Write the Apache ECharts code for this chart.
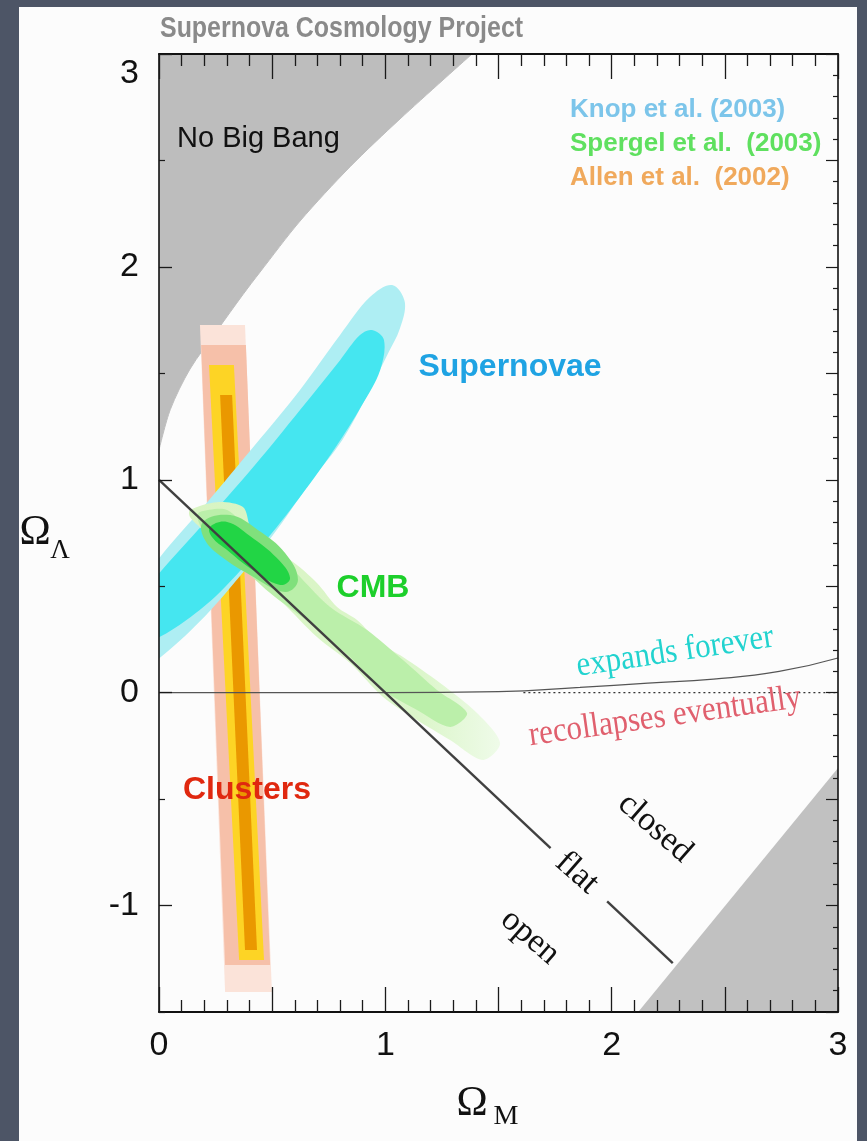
<!DOCTYPE html>
<html><head><meta charset="utf-8">
<script src="https://cdn.jsdelivr.net/npm/echarts@6/dist/echarts.min.js"></script>
<style>html,body{margin:0;padding:0;background:#4d5566;}#c{width:867px;height:1141px;}</style>
</head><body><div id="c"></div>
<script>
// ---- tick labels ----
const xLabelValues = [0, 1, 2, 3];
const yLabelValues = [-1, 0, 1, 2, 3];
const yHalfTicks = [-1.5, -0.5, 0.5, 1.5, 2.5];

// ---- regions (Omega_M, Omega_Lambda) ----
const noBigBangEdge = [[0,1.14],[0.05,1.33],[0.137,1.52],[0.256,1.70],[0.371,1.87],[0.446,1.975],[0.623,2.215],[0.844,2.47],[1.065,2.695],[1.383,3.0]];
const lowerRightGray = [[2.117,-1.5],[3,-0.354],[3,-1.5]];

const clusterPale   = [[0.181,1.727],[0.380,1.727],[0.499,-1.406],[0.292,-1.406]];
const clusterPink   = [[0.186,1.633],[0.384,1.633],[0.491,-1.279],[0.292,-1.279]];
const clusterYellow = [[0.221,1.539],[0.331,1.539],[0.464,-1.256],[0.354,-1.256]];
const clusterOrange = [[0.270,1.398],[0.323,1.398],[0.433,-1.209],[0.380,-1.209]];

const snOuter = [[1.030,1.915],[1.086,1.835],[1.062,1.703],[1.015,1.600],[0.920,1.398],[0.810,1.187],[0.675,0.999],[0.520,0.764],[0.362,0.553],[0.181,0.335],[0,0.16],[-0.128,0.07],[-0.22,0.08],[-0.25,0.20],[-0.150,0.40],[0,0.63],[0.203,0.881],[0.424,1.163],[0.623,1.422],[0.800,1.680],[0.932,1.858]];
const snInner = [[0.941,1.703],[0.994,1.656],[0.977,1.515],[0.897,1.351],[0.778,1.149],[0.623,0.919],[0.455,0.693],[0.270,0.473],[0.12,0.34],[0,0.26],[-0.10,0.22],[-0.15,0.30],[-0.08,0.45],[0,0.56],[0.203,0.80],[0.424,1.069],[0.623,1.328],[0.800,1.562],[0.888,1.680]];

const cmbOuter = [[0.137,0.858],[0.256,0.895],[0.371,0.872],[0.402,0.778],[0.446,0.684],[0.579,0.623],[0.698,0.515],[0.787,0.402],[0.875,0.341],[0.977,0.233],[1.078,0.167],[1.242,0.045],[1.405,-0.096],[1.507,-0.237],[1.432,-0.316],[1.286,-0.222],[1.140,-0.128],[0.990,-0.020],[0.844,0.139],[0.698,0.261],[0.548,0.421],[0.402,0.562],[0.283,0.670],[0.194,0.764],[0.137,0.825]];
const cmbMiddle = [[0.181,0.849],[0.301,0.858],[0.402,0.750],[0.579,0.590],[0.756,0.402],[0.919,0.294],[1.078,0.153],[1.228,0.012],[1.361,-0.096],[1.286,-0.161],[1.140,-0.082],[0.990,0.012],[0.844,0.167],[0.667,0.327],[0.491,0.468],[0.345,0.609],[0.212,0.731],[0.168,0.825]];
const cmbRing = [[0.194,0.802],[0.314,0.834],[0.437,0.764],[0.557,0.656],[0.614,0.529],[0.557,0.473],[0.402,0.553],[0.278,0.637],[0.203,0.717]];
const cmbInner = [[0.225,0.778],[0.301,0.802],[0.402,0.736],[0.521,0.632],[0.579,0.539],[0.535,0.506],[0.402,0.585],[0.301,0.670],[0.234,0.731]];

// ---- lines ----
const flatLineA = [[0,1],[1.73,-0.73]];
const flatLineB = [[1.98,-0.98],[2.27,-1.27]];
const expandBoundary = [[0,0],[1.0,0],[1.5,0.005],[1.86,0.025],[2.16,0.045],[2.45,0.064],[2.74,0.10],[3.0,0.163]];
const zeroDotted = [[1.61,0],[3,0]];

function poly(name, pts, fill, z, smooth) {
  return {
    type: 'custom', name: name, z: z, clip: true, silent: true,
    data: pts,
    renderItem: function (params, api) {
      if (params.dataIndex !== 0) return null;
      return {
        type: 'polygon',
        shape: { points: pts.map(function (p) { return api.coord(p); }), smooth: smooth || 0 },
        style: { fill: fill }
      };
    }
  };
}
function line(name, pts, color, width, type, z, smooth) {
  return {
    type: 'line', name: name, data: pts, z: z, showSymbol: false, symbol: 'none', smooth: smooth || false,
    silent: true, clip: true,
    lineStyle: { color: color, width: width, type: type || 'solid' }
  };
}

const chart = echarts.init(document.getElementById('c'), null, { renderer: 'canvas' });
const SANS = "'Liberation Sans', Arial, Helvetica, sans-serif";
const SERIF = "'Liberation Serif', 'Times New Roman', serif";
const tickColor = '#1a1a1a';

const commonX = {
  type: 'value', min: 0, max: 3, interval: 0.5, z: 10,
  splitLine: { show: false },
  axisLine: { onZero: false, lineStyle: { color: '#111', width: 2 } },
  axisTick: { inside: true, length: 25, lineStyle: { color: tickColor, width: 1.3 } },
  minorTick: { show: true, splitNumber: 5, length: 12, lineStyle: { color: tickColor, width: 1.3 } },
  minorSplitLine: { show: false }
};

const noBigBangSeries = line('No Big Bang', noBigBangEdge, '#bdbdbd', 1, 'solid', 1, 0.3);
noBigBangSeries.areaStyle = { color: '#bdbdbd', opacity: 1, origin: 'end' };

const option = {
  backgroundColor: '#4d5566',
  animation: false,
  grid: { left: 159, top: 54, right: 29, bottom: 129, containLabel: false },
  xAxis: [
    Object.assign({}, commonX, {
      position: 'bottom',
      axisLabel: { customValues: xLabelValues, fontSize: 34, color: '#111', margin: 17, fontFamily: SANS }
    }),
    Object.assign({}, commonX, { position: 'top', axisLabel: { show: false } })
  ],
  yAxis: [
    {
      type: 'value', min: -1.5, max: 3, interval: 0.5, position: 'left', z: 10,
      splitLine: { show: false },
      axisLine: { onZero: false, lineStyle: { color: '#111', width: 1.6 } },
      axisTick: { inside: true, customValues: yLabelValues, length: 13, lineStyle: { color: tickColor, width: 1.3 } },
      axisLabel: {
        customValues: yLabelValues, fontSize: 34, color: '#111', margin: 20, fontFamily: SANS,
        formatter: function (v) { return v === 3 ? '{d|3}' : String(v); },
        rich: { d: { fontSize: 34, color: '#111', fontFamily: SANS, padding: [40, 0, 0, 0] } }
      }
    },
    {
      type: 'value', min: -1.5, max: 3, interval: 0.5, position: 'right', z: 10,
      splitLine: { show: false },
      axisLine: { onZero: false, lineStyle: { color: '#111', width: 1.6 } },
      axisTick: { inside: true, length: 12, lineStyle: { color: tickColor, width: 1.2 } },
      minorTick: { show: true, splitNumber: 5, length: 5, lineStyle: { color: tickColor, width: 1.2 } },
      axisLabel: { show: false }
    },
    {
      type: 'value', min: -1.5, max: 3, interval: 0.5, position: 'left', z: 10,
      splitLine: { show: false },
      axisLine: { show: false, onZero: false },
      axisTick: { inside: true, customValues: yHalfTicks, length: 6, lineStyle: { color: tickColor, width: 1.2 } },
      axisLabel: { show: false }
    }
  ],
  series: [
    noBigBangSeries,
    poly('lower right', lowerRightGray, '#c1c1c1', 1),
    poly('Clusters pale', clusterPale, '#fbe3d9', 2),
    poly('Clusters pink', clusterPink, '#f6c0a9', 2),
    poly('Clusters yellow', clusterYellow, '#fdd425', 2),
    poly('Clusters orange', clusterOrange, '#ea9800', 2),
    poly('SN outer', snOuter, '#aeeef3', 3, 0.35),
    poly('SN inner', snInner, '#45e6f0', 3, 0.35),
    poly('CMB outer', cmbOuter, new echarts.graphic.LinearGradient(0, 0, 1, 0, [
      { offset: 0, color: '#d8f4c2' }, { offset: 0.75, color: '#dcf6cb' }, { offset: 1, color: '#effbe9' }]), 4, 0.3),
    poly('CMB middle', cmbMiddle, '#bbefaa', 4, 0.3),
    poly('CMB ring', cmbRing, '#80e07c', 4, 0.4),
    poly('CMB inner', cmbInner, '#22d545', 4, 0.4),
    line('zero / expands boundary', expandBoundary, '#555', 1.2, 'solid', 5, true),
    line('zero dotted', zeroDotted, '#333', 1.3, [2, 3], 5),
    line('flat A', flatLineA, '#404040', 2.4, 'solid', 6),
    line('flat B', flatLineB, '#404040', 2.4, 'solid', 6)
  ],
  graphic: [
    { type: 'rect', z: -10, shape: { x: 19, y: 7, width: 838, height: 1134 }, style: { fill: '#fcfcfc' } },
    { type: 'text', z: 50, x: 160, y: 29, scaleX: 0.86,
      style: { text: 'Supernova Cosmology Project', fill: '#8a8a8a', font: 'bold 29px ' + SANS, align: 'left', verticalAlign: 'middle' } },
    { type: 'text', z: 50, x: 177, y: 139,
      style: { text: 'No Big Bang', fill: '#111', font: '29px ' + SANS, align: 'left', verticalAlign: 'middle' } },
    { type: 'text', z: 50, x: 570, y: 110,
      style: { text: 'Knop et al. (2003)', fill: '#7cc5ea', font: 'bold 26px ' + SANS, align: 'left', verticalAlign: 'middle' } },
    { type: 'text', z: 50, x: 570, y: 144,
      style: { text: 'Spergel et al.  (2003)', fill: '#5fe05f', font: 'bold 26px ' + SANS, align: 'left', verticalAlign: 'middle' } },
    { type: 'text', z: 50, x: 570, y: 178,
      style: { text: 'Allen et al.  (2002)', fill: '#f0a95c', font: 'bold 26px ' + SANS, align: 'left', verticalAlign: 'middle' } },
    { type: 'text', z: 50, x: 510, y: 367,
      style: { text: 'Supernovae', fill: '#1fa3e3', font: 'bold 32px ' + SANS, align: 'center', verticalAlign: 'middle' } },
    { type: 'text', z: 50, x: 373, y: 588,
      style: { text: 'CMB', fill: '#1dcf2b', font: 'bold 32px ' + SANS, align: 'center', verticalAlign: 'middle' } },
    { type: 'text', z: 50, x: 247, y: 790,
      style: { text: 'Clusters', fill: '#e0280f', font: 'bold 32px ' + SANS, align: 'center', verticalAlign: 'middle' } },
    { type: 'text', z: 50, x: 675, y: 652, rotation: 0.15, scaleY: 1.12,
      style: { text: 'expands forever', fill: '#22d3cf', font: '31px ' + SERIF, align: 'center', verticalAlign: 'middle' } },
    { type: 'text', z: 50, x: 665, y: 717, rotation: 0.14, scaleY: 1.12,
      style: { text: 'recollapses eventually', fill: '#e0606e', font: '31px ' + SERIF, align: 'center', verticalAlign: 'middle' } },
    { type: 'text', z: 50, x: 655, y: 828, rotation: -0.72,
      style: { text: 'closed', fill: '#111', font: '34px ' + SERIF, align: 'center', verticalAlign: 'middle' } },
    { type: 'text', z: 50, x: 577, y: 873, rotation: -0.72,
      style: { text: 'flat', fill: '#111', font: '34px ' + SERIF, align: 'center', verticalAlign: 'middle' } },
    { type: 'text', z: 50, x: 530, y: 937, rotation: -0.72,
      style: { text: 'open', fill: '#111', font: '34px ' + SERIF, align: 'center', verticalAlign: 'middle' } },
    { type: 'text', z: 50, x: 35, y: 533,
      style: { text: 'Ω', fill: '#111', font: '42px ' + SERIF, align: 'center', verticalAlign: 'middle' } },
    { type: 'text', z: 50, x: 60, y: 551,
      style: { text: 'Λ', fill: '#111', font: '27px ' + SERIF, align: 'center', verticalAlign: 'middle' } },
    { type: 'text', z: 50, x: 472, y: 1104,
      style: { text: 'Ω', fill: '#111', font: '42px ' + SERIF, align: 'center', verticalAlign: 'middle' } },
    { type: 'text', z: 50, x: 506, y: 1117,
      style: { text: 'M', fill: '#111', font: '28px ' + SERIF, align: 'center', verticalAlign: 'middle' } }
  ]
};
chart.setOption(option);
</script>
</body></html>
